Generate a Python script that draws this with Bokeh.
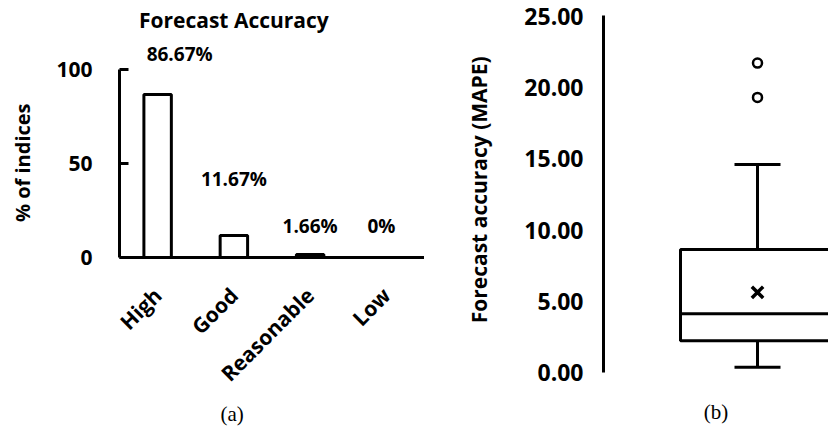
import numpy as np
from bokeh.plotting import figure
from bokeh.models import (Range1d, FactorRange, FixedTicker, NumeralTickFormatter,
                          Title, ColumnDataSource)
from bokeh.layouts import row, column
from bokeh.embed import file_html
from bokeh.resources import INLINE
from bokeh.core.properties import value

# ---------------- data: panel (a) ----------------
categories = ["High", "Good", "Reasonable", "Low"]
percent_of_indices = [86.67, 11.67, 1.66, 0.0]
percent_labels = ["86.67%", "11.67%", "1.66%", "0%"]
y_ticks_a = [0, 50, 100]

# ---------------- data: panel (b) ----------------
mape_lower_whisker = 0.40
mape_q1 = 2.25
mape_median = 4.15
mape_q3 = 8.65
mape_upper_whisker = 14.6
mape_mean = 5.65
mape_outliers = [19.3, 21.7]
y_ticks_b = [0, 5, 10, 15, 20, 25]

# ---------------- layout / style ----------------
FONT = "Open Sans"
SERIF = "Liberation Serif"
H = 427
LW = 3
WA = 424
WB = 404
NBSP = "\u00a0"

# label placement for (a): y position in data units and x offset in px
label_y = [108.5, 42.0, 17.0, 17.0]
label_dx = [22, 0, 0, -5]
title_y = 126.1

pA = figure(width=WA, height=H,
            x_range=FactorRange(*categories), y_range=Range1d(0, 136.7),
            output_backend="svg", toolbar_location=None,
            min_border_left=119, min_border_right=0,
            min_border_top=0, min_border_bottom=H - 257)
pA.grid.visible = False
pA.outline_line_color = None
pA.background_fill_color = "white"
pA.border_fill_color = "white"

pA.vbar(x=categories, top=percent_of_indices, width=0.36,
        fill_color="white", line_color="black", line_width=LW)

src = ColumnDataSource(dict(x=categories, y=label_y, text=percent_labels, dx=label_dx))
pA.text(x="x", y="y", text="text", x_offset="dx", source=src,
        text_align="center", text_baseline="middle",
        text_font=value(FONT), text_font_style="bold", text_font_size="19px",
        text_color="black")
pA.text(x=[1.5], y=[title_y], text=["Forecast Accuracy"],
        text_align="center", text_baseline="middle",
        text_font=value(FONT), text_font_style="bold", text_font_size="21px",
        text_color="black")

ya = pA.yaxis[0]
ya.ticker = FixedTicker(ticks=y_ticks_a)
ya.bounds = (0, 100)
ya.axis_line_width = LW
ya.axis_line_color = "black"
ya.major_tick_in = 9
ya.major_tick_out = 0
ya.major_tick_line_width = LW
ya.minor_tick_line_color = None
ya.major_label_standoff = 27
ya.major_label_text_font = FONT
ya.major_label_text_font_style = "bold"
ya.major_label_text_font_size = "21px"
ya.major_label_text_color = "black"
# trailing no-break spaces push the visible label lower along the axis
ya.axis_label = "% of indices" + NBSP * 13
ya.axis_label_text_font = FONT
ya.axis_label_text_font_style = "bold"
ya.axis_label_text_font_size = "20px"
ya.axis_label_text_color = "black"
ya.axis_label_standoff = 17

xa = pA.xaxis[0]
xa.axis_line_width = LW
xa.axis_line_color = "black"
xa.major_tick_in = 0
xa.major_tick_out = 0
xa.minor_tick_line_color = None
xa.major_label_orientation = np.pi / 4
xa.major_label_standoff = 34
xa.major_label_text_font = FONT
xa.major_label_text_font_style = "bold"
xa.major_label_text_font_size = "21px"
xa.major_label_text_color = "black"

# caption (a)
pA.add_layout(Title(text="(a)", align="left", offset=101, standoff=0,
                    text_font=SERIF, text_font_style="normal", text_font_size="21px",
                    text_color="black"), "below")

# ---------------- panel (b) ----------------
BOX_X = 0.0
BOX_HALF = 0.77
CAP_HALF = 0.23

pB = figure(width=WB, height=H,
            x_range=Range1d(-1.54, 0.71), y_range=Range1d(-1.576, 26.085),
            output_backend="svg", toolbar_location=None,
            min_border_left=179, min_border_right=0,
            min_border_top=0, min_border_bottom=H - 395)
pB.grid.visible = False
pB.outline_line_color = None
pB.xaxis.visible = False
pB.background_fill_color = "white"
pB.border_fill_color = "white"

pB.quad(left=BOX_X - BOX_HALF, right=BOX_X + BOX_HALF, bottom=mape_q1, top=mape_q3,
        fill_color="white", line_color="black", line_width=LW)
pB.segment(x0=[BOX_X - BOX_HALF], x1=[BOX_X + BOX_HALF], y0=[mape_median], y1=[mape_median],
           line_color="black", line_width=LW)
pB.segment(x0=[BOX_X, BOX_X], x1=[BOX_X, BOX_X],
           y0=[mape_q3, mape_q1], y1=[mape_upper_whisker, mape_lower_whisker],
           line_color="black", line_width=LW)
pB.segment(x0=[BOX_X - CAP_HALF] * 2, x1=[BOX_X + CAP_HALF] * 2,
           y0=[mape_upper_whisker, mape_lower_whisker],
           y1=[mape_upper_whisker, mape_lower_whisker],
           line_color="black", line_width=LW)
pB.scatter(x=[BOX_X] * len(mape_outliers), y=mape_outliers, marker="circle", size=9,
           fill_color="white", line_color="black", line_width=2.5)
pB.scatter(x=[BOX_X], y=[mape_mean], marker="x", size=16, line_color="black", line_width=3.5)

yb = pB.yaxis[0]
yb.ticker = FixedTicker(ticks=y_ticks_b)
yb.formatter = NumeralTickFormatter(format="0.00")
yb.bounds = (0, 25)
yb.axis_line_width = LW
yb.axis_line_color = "black"
yb.major_tick_in = 0
yb.major_tick_out = 0
yb.minor_tick_line_color = None
yb.major_label_standoff = 20
yb.major_label_text_font = FONT
yb.major_label_text_font_style = "bold"
yb.major_label_text_font_size = "23px"
yb.major_label_text_color = "black"
# leading no-break spaces lift the visible label slightly along the axis
yb.axis_label = NBSP * 3 + "Forecast accuracy (MAPE)"
yb.axis_label_text_font = FONT
yb.axis_label_text_font_style = "bold"
yb.axis_label_text_font_size = "21px"
yb.axis_label_text_color = "black"
yb.axis_label_standoff = 28

pB.add_layout(Title(text="(b)", align="center", standoff=4,
                    text_font=SERIF, text_font_style="normal", text_font_size="21px",
                    text_color="black"), "below")

layout = row(column(pA), column(pB))
open("out.html", "w").write(file_html(layout, INLINE))
